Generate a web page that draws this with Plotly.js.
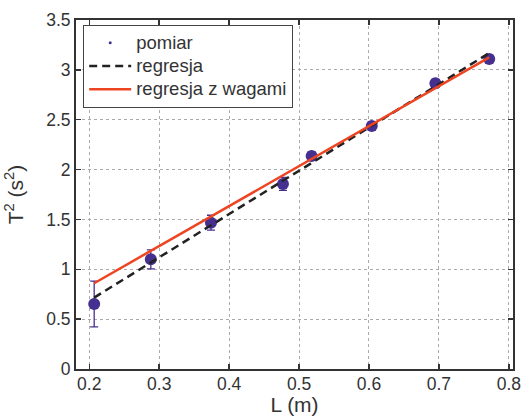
<!DOCTYPE html>
<html>
<head>
<meta charset="utf-8">
<script src="https://cdn.plot.ly/plotly-3.0.1.min.js"></script>
<style>html,body{margin:0;padding:0;background:#fff;}#chart{width:530px;height:416px;}</style>
</head>
<body>
<div id="chart"></div>
<script>
// Measured data: pendulum length L (m) vs T^2 (s^2)
const lengthL = [0.207, 0.288, 0.374, 0.477, 0.518, 0.604, 0.695, 0.772];
const periodSq = [0.652, 1.100, 1.467, 1.856, 2.136, 2.437, 2.865, 3.109];
const periodSqErr = [0.230, 0.095, 0.075, 0.065, 0.040, 0.040, 0.040, 0.040];
// Weighted regression (intercept, slope)
const weightedFit = [0.03, 4.01];
const seriesNames = ['pomiar', 'regresja', 'regresja z wagami'];
const xTicks = [0.2, 0.3, 0.4, 0.5, 0.6, 0.7, 0.8];
const yTicks = [0, 0.5, 1, 1.5, 2, 2.5, 3, 3.5];

// Ordinary least squares from the measurements
const n = lengthL.length;
const mx = lengthL.reduce((a, b) => a + b, 0) / n;
const my = periodSq.reduce((a, b) => a + b, 0) / n;
let sxy = 0, sxx = 0;
for (let i = 0; i < n; i++) { sxy += (lengthL[i] - mx) * (periodSq[i] - my); sxx += (lengthL[i] - mx) ** 2; }
const olsB = sxy / sxx, olsA = my - olsB * mx;
const xEnds = [Math.min(...lengthL), Math.max(...lengthL)];

const fam = 'Liberation Sans, Arial, sans-serif';
const tickFont = {family: fam, size: 17.5, color: '#333'};
const titleFont = {family: fam, size: 21, color: '#333'};
const purple = '#46308f';
const legendLabel = s => '<span style="font-size:18.5px">' + s + '</span>';

const traces = [
  {x: lengthL, y: periodSq, type: 'scatter', mode: 'markers', showlegend: false,
   marker: {color: purple, size: 12},
   error_y: {type: 'data', array: periodSqErr, visible: true, color: purple, thickness: 1.3, width: 4}},
  {x: [null], y: [null], type: 'scatter', mode: 'markers', name: legendLabel(seriesNames[0]),
   marker: {color: purple, size: 3}},
  {x: xEnds, y: xEnds.map(v => olsA + olsB * v), type: 'scatter', mode: 'lines', name: legendLabel(seriesNames[1]),
   line: {color: '#222', width: 2.5, dash: '8px,5px'}},
  {x: xEnds, y: xEnds.map(v => weightedFit[0] + weightedFit[1] * v), type: 'scatter', mode: 'lines', name: legendLabel(seriesNames[2]),
   line: {color: '#ee4422', width: 2.5}}
];

const axisCommon = {
  showline: true, linecolor: '#333', linewidth: 2, mirror: 'ticks',
  ticks: 'inside', ticklen: 5, tickwidth: 1.5, tickcolor: '#333',
  showgrid: true, gridcolor: '#aaa', gridwidth: 1, griddash: 'dot',
  zeroline: false, tickfont: tickFont
};

const layout = {
  width: 530, height: 416,
  margin: {l: 76, r: 17, t: 20, b: 47},
  paper_bgcolor: '#fff', plot_bgcolor: '#fff',
  font: tickFont,
  xaxis: Object.assign({}, axisCommon, {
    range: [0.181, 0.806], tickvals: xTicks, ticktext: xTicks.map(String),
    ticklabelstandoff: -2,
    title: {text: 'L (m)', font: titleFont}
  }),
  yaxis: Object.assign({}, axisCommon, {
    range: [0, 3.5], tickvals: yTicks, ticktext: yTicks.map(String),
    title: {text: 'T<sup>2</sup> (s<sup>2</sup>)', font: titleFont}
  }),
  legend: {
    x: 0.016, y: 0.986, xanchor: 'left', yanchor: 'top',
    bgcolor: '#fff', bordercolor: '#444', borderwidth: 1.2,
    font: {family: fam, size: 15.6, color: '#333'},
    itemwidth: 42, tracegroupgap: 0
  },
  showlegend: true
};

Plotly.newPlot('chart', traces, layout, {displayModeBar: false, staticPlot: true});
</script>
</body>
</html>
